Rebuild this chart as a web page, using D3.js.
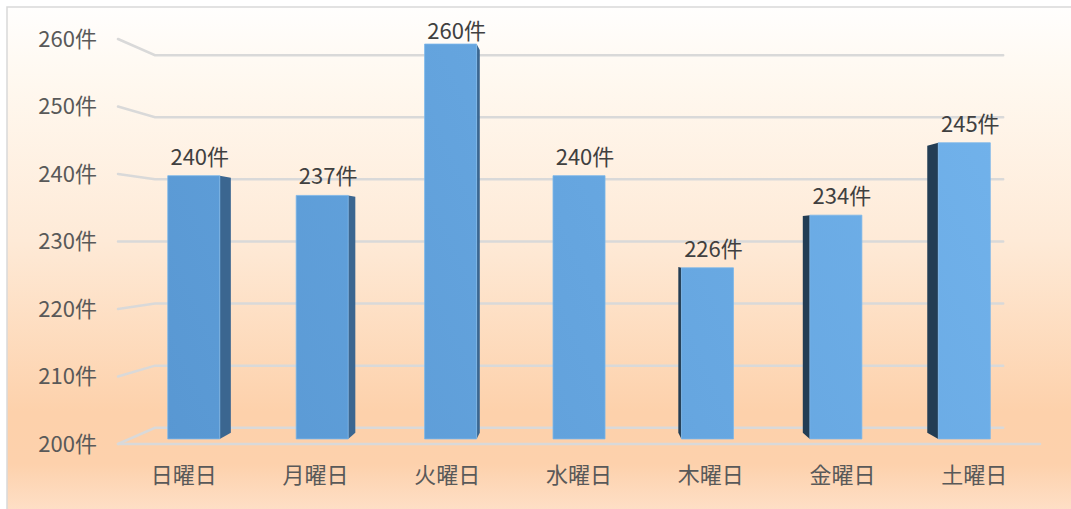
<!DOCTYPE html>
<html><head><meta charset="utf-8">
<script src="https://cdn.jsdelivr.net/npm/d3@7"></script>
<style>
html,body{margin:0;padding:0;background:#fff;}
svg{display:block;}
text{font-family:"Noto Sans CJK JP","Noto Sans",sans-serif;}
</style></head>
<body>
<svg id="chart" width="1071" height="509"></svg>
<script>
const categories = ["日曜日","月曜日","火曜日","水曜日","木曜日","金曜日","土曜日"];
const values = [240, 237, 260, 240, 226, 234, 245];
const tickValues = [200, 210, 220, 230, 240, 250, 260];
const unit = "件";

const W = 1071, H = 509;
const svg = d3.select("#chart");
const defs = svg.append("defs");

// background gradient
const bg = defs.append("linearGradient").attr("id","bg").attr("x1",0).attr("y1",0).attr("x2",0).attr("y2",1);
[[0,"#fffefd"],[0.15,"#fff8ef"],[0.45,"#feead7"],[0.78,"#fdd1ab"],[0.88,"#fdd1ac"],[1,"#fee4cf"]]
  .forEach(([o,c])=>bg.append("stop").attr("offset",o).attr("stop-color",c));
svg.append("rect").attr("x",0).attr("y",0).attr("width",W).attr("height",H).attr("fill","#fff");
svg.append("rect").attr("x",7).attr("y",7).attr("width",W+10).attr("height",H+10)
  .attr("fill","url(#bg)").attr("stroke","#d9d9d9").attr("stroke-width",1.5);

// bar front gradient
const fg = defs.append("linearGradient").attr("id","front").attr("gradientUnits","userSpaceOnUse")
  .attr("x1",150).attr("y1",440).attr("x2",1000).attr("y2",40);
fg.append("stop").attr("offset",0).attr("stop-color","#5897d2");
fg.append("stop").attr("offset",1).attr("stop-color","#72b3ec");

// front-plane scales
const x = d3.scaleBand().domain(categories).range([118, 1040]).paddingInner(0.595).paddingOuter(0.2975);
const y = d3.scaleLinear().domain([200, 260]).range([444, 39]);

// perspective projection
const VX = 580, VY = 241;
const S_WALL = 0.92, S_FRONT = 0.975, S_BACK = 0.945;
const px = (X, s) => VX + s * (X - VX);
const py = (Y, s) => VY + s * (Y - VY);
const P = (X, v, s) => [px(X, s), py(y(v), s)];

const grid = svg.append("g").attr("stroke","#d9d9d9").attr("stroke-width",2.5).attr("fill","none").attr("stroke-linecap","round");
const [xL, xR] = x.range();
tickValues.forEach(v => {
  const a = P(xL, v, 1), b = P(xL, v, S_WALL), c = P(xR, v, S_WALL);
  grid.append("path").attr("d", d3.line()([a, b, c]));
});
// floor front edge
grid.append("path").attr("d", d3.line()([P(xL, 200, 1), P(xR, 200, 1)]));

// tick labels
svg.append("g").selectAll("text").data(tickValues).join("text")
  .attr("x", 97).attr("y", d => y(d) + 2)
  .attr("text-anchor","end").attr("dominant-baseline","middle")
  .attr("font-size", 22).attr("fill","#595959")
  .text(d => d + unit);

// bars
const bars = svg.append("g");
categories.forEach((c, i) => {
  const v = values[i];
  const x0 = x(c), x1 = x(c) + x.bandwidth();
  const g = bars.append("g");
  if (px(x1, S_BACK) > px(x1, S_FRONT)) {
    g.append("path").attr("fill","#3b6690")
      .attr("d", d3.line()([P(x1,200,S_FRONT), P(x1,200,S_BACK), P(x1,v,S_BACK), P(x1,v,S_FRONT)]) + "Z");
  }
  if (px(x0, S_BACK) < px(x0, S_FRONT)) {
    g.append("path").attr("fill","#233d54")
      .attr("d", d3.line()([P(x0,200,S_FRONT), P(x0,200,S_BACK), P(x0,v,S_BACK), P(x0,v,S_FRONT)]) + "Z");
  }
  g.append("path").attr("fill","url(#front)").attr("stroke","#7ab6ea").attr("stroke-width",0.8)
    .attr("d", d3.line()([P(x0,200,S_FRONT), P(x1,200,S_FRONT), P(x1,v,S_FRONT), P(x0,v,S_FRONT)]) + "Z");
});

// value labels
svg.append("g").selectAll("text").data(values).join("text")
  .attr("x", (d, i) => px(x(categories[i]) + x.bandwidth()/2, S_FRONT) + 6)
  .attr("y", d => Math.max(py(y(d), S_FRONT) - 11, 39))
  .attr("text-anchor","middle")
  .attr("font-size", 22).attr("fill","#404040")
  .text(d => d + unit);

// category labels
svg.append("g").selectAll("text").data(categories).join("text")
  .attr("x", d => x(d) + x.bandwidth()/2)
  .attr("y", 483)
  .attr("text-anchor","middle")
  .attr("font-size", 22).attr("fill","#595959")
  .text(d => d);
</script>
</body></html>
